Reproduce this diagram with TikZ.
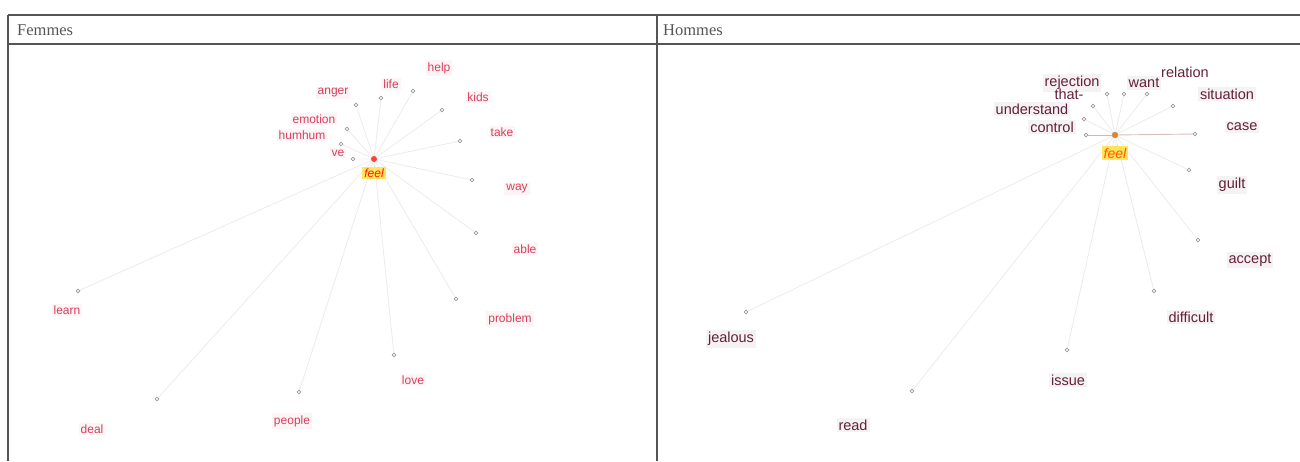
\documentclass[tikz,border=0pt]{standalone}
\usepackage{fontspec}
\setmainfont{Liberation Serif}
\newfontfamily\wordfont{Liberation Sans}
\usetikzlibrary{backgrounds}
\definecolor{rulegray}{HTML}{555555}
\definecolor{headgray}{HTML}{555555}
\definecolor{fred}{HTML}{D5405E}
\definecolor{fback}{HTML}{FCF4F5}
\definecolor{hred}{HTML}{64203A}
\definecolor{hback}{HTML}{F5F2F3}
\definecolor{feelback}{HTML}{FFE45C}
\begin{document}
\begin{tikzpicture}[x=1pt, y=-1pt,
        rule/.style = {draw=rulegray, line width=1.4pt},
        head/.style = {anchor=west, text=headgray, font=\fontsize{16.5}{18}\selectfont, inner sep=0pt},
        dot/.style = {circle, draw=gray!80, fill=white, line width=0.7pt,
                    inner sep=0pt, minimum size=3.6pt},
        fword/.style = {font=\wordfont\fontsize{12}{14}\selectfont, text=fred,
                    fill=fback, inner sep=2pt},
        hword/.style = {font=\wordfont\fontsize{14.5}{16}\selectfont, text=hred,
                    fill=hback, inner sep=2pt},
        feelbox/.style = {fill=feelback, inner sep=2pt, font=\wordfont\itshape\fontsize{12}{14}\selectfont},
        link/.style = {draw=gray!14, line width=0.9pt},
        strong/.style = {draw=gray!50, line width=0.9pt}]
    \useasboundingbox (0,0) rectangle (1300,461);
    % table
    \draw[rule] (8,15) -- (1300,15) (8,44) -- (1300,44)
        (8,15) -- (8,461) (657,15) -- (657,461);
    \node[head] (fhead) at (17,30) {Femmes};
    \node[head] (hhead) at (663,30) {Hommes};

    % Femmes
    \node[circle, fill=red!75, inner sep=0pt, minimum size=6pt] (fhub) at (374,159) {};
    \node[feelbox, text=red!80!orange] (ffeel) at (374,173) {feel};
    \node[dot] (fanger) at (356,105) {};   \node[fword] (fangerl) at (333,93) {anger};
    \node[dot] (flife) at (381,98) {};     \node[fword] (flifel) at (391,84) {life};
    \node[dot] (fhelp) at (413,91) {};     \node[fword] (fhelpl) at (439,68) {help};
    \node[dot] (fkids) at (442,110) {};    \node[fword] (fkidsl) at (478,97) {kids};
    \node[dot] (femotion) at (347,129) {}; \node[fword] (femotionl) at (314,119) {emotion};
    \node[dot] (fhumhum) at (341,144) {};  \node[fword] (fhumhuml) at (302,135) {humhum};
    \node[dot] (ftake) at (460,141) {};    \node[fword] (ftakel) at (502,132) {take};
    \node[dot] (fve) at (353,159) {};      \node[fword] (fvel) at (338,153) {ve};
    \node[dot] (fway) at (472,180) {};     \node[fword] (fwayl) at (517,189) {way};
    \node[dot] (fable) at (476,233) {};    \node[fword] (fablel) at (525,249) {able};
    \node[dot] (flearn) at (78,291) {};    \node[fword] (flearnl) at (67,310) {learn};
    \node[dot] (fproblem) at (456,299) {}; \node[fword] (fproblemll) at (510,319) {problem};
    \node[dot] (flove) at (394,355) {};    \node[fword] (flovel) at (413,380) {love};
    \node[dot] (fdeal) at (157,399) {};    \node[fword] (fdeall) at (92,429) {deal};
    \node[dot] (fpeople) at (299,392) {};  \node[fword] (fpeoplel) at (292,421) {people};

    % Hommes
    \node[circle, draw=gray!70, fill=orange!70!brown, inner sep=0pt, minimum size=6pt] (hhub) at (1115,135) {};
    \node[feelbox, text=orange!70!red, font=\wordfont\itshape\fontsize{14}{16}\selectfont] (hfeel) at (1115,153) {feel};
    \node[dot] (hrejection) at (1107,94) {};  \node[hword] (hrejectionl) at (1072,83) {rejection};
    \node[dot] (hthat) at (1093,106) {};      \node[hword, fill=none] (hthatl) at (1069,94) {that-};
    \node[dot] (hunderstand) at (1084,119) {}; \node[hword] (hunderstandl) at (1032,109) {understand};
    \node[dot] (hcontrol) at (1086,135) {};   \node[hword] (hcontroll) at (1052,127) {control};
    \node[dot] (hwant) at (1124,94) {};       \node[hword] (hwantl) at (1144,83) {want};
    \node[dot] (hrelation) at (1147,94) {};   \node[hword, fill=none] (hrelationl) at (1185,72) {relation};
    \node[dot] (hsituation) at (1173,106) {}; \node[hword] (hsituationl) at (1227,94) {situation};
    \node[dot] (hcase) at (1195,134) {};      \node[hword] (hcasel) at (1242,127) {case};
    \node[dot] (hguilt) at (1189,170) {};     \node[hword] (hguiltl) at (1232,185) {guilt};
    \node[dot] (haccept) at (1198,240) {};    \node[hword] (hacceptl) at (1250,260) {accept};
    \node[dot] (hdifficult) at (1154,291) {}; \node[hword] (hdifficultl) at (1191,317) {difficult};
    \node[dot] (hissue) at (1067,350) {};     \node[hword] (hissuel) at (1068,380) {issue};
    \node[dot] (hread) at (912,391) {};       \node[hword] (hreadl) at (853,425) {read};
    \node[dot] (hjealous) at (746,312) {};    \node[hword] (hjealousl) at (731,339) {jealous};

    \begin{scope}[on background layer]
        \draw[link] (fhub) -- (fanger) (fhub) -- (flife) (fhub) -- (fhelp)
            (fhub) -- (fkids) (fhub) -- (femotion) (fhub) -- (fhumhum)
            (fhub) -- (ftake) (fhub) -- (fve) (fhub) -- (fway) (fhub) -- (fable)
            (fhub) -- (flearn) (fhub) -- (fproblem) (fhub) -- (flove)
            (fhub) -- (fdeal) (fhub) -- (fpeople);
        \draw[link] (hhub) -- (hrejection) (hhub) -- (hthat) (hhub) -- (hunderstand)
            (hhub) -- (hwant) (hhub) -- (hrelation) (hhub) -- (hsituation)
            (hhub) -- (hguilt) (hhub) -- (haccept) (hhub) -- (hdifficult)
            (hhub) -- (hissue) (hhub) -- (hread) (hhub) -- (hjealous);
        \draw[strong] (hhub) -- (hcontrol);
        \draw[strong, draw=red!25!gray!40] (hhub) -- (hcase);
    \end{scope}
\end{tikzpicture}
\end{document}
